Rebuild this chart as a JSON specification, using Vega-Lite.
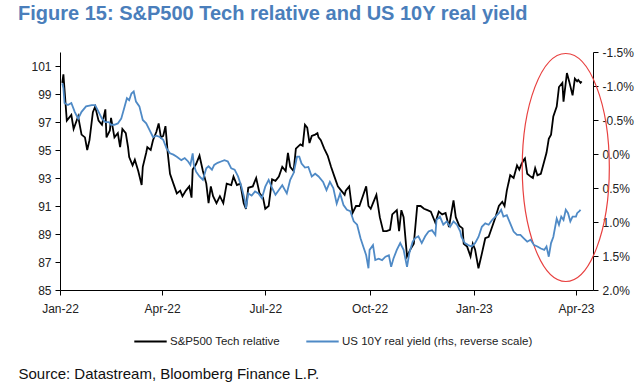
{
  "$schema": "https://vega.github.io/schema/vega-lite/v6.json",
  "autosize": {"type": "none"},
  "width": 533,
  "height": 238,
  "padding": {"left": 60, "top": 52, "right": 47, "bottom": 102},
  "background": "white",
  "title": {
    "text": "Figure 15: S&P500 Tech relative and US 10Y real yield",
    "anchor": "start",
    "frame": "group",
    "dx": -42,
    "offset": 22,
    "font": "Liberation Sans",
    "fontSize": 20,
    "fontWeight": "bold",
    "color": "#4a7ebb"
  },
  "datasets": {
    "tech": [
      {"d":"2022-01-03","v":99.8},{"d":"2022-01-04","v":100.4},{"d":"2022-01-07","v":97.1},{"d":"2022-01-11","v":97.5},{"d":"2022-01-13","v":96.5},{"d":"2022-01-17","v":97.4},{"d":"2022-01-20","v":96.1},{"d":"2022-01-23","v":95.9},{"d":"2022-01-25","v":95.0},{"d":"2022-01-27","v":95.7},{"d":"2022-01-30","v":97.7},{"d":"2022-02-01","v":98.1},{"d":"2022-02-04","v":97.1},{"d":"2022-02-07","v":96.8},{"d":"2022-02-10","v":97.9},{"d":"2022-02-11","v":95.9},{"d":"2022-02-14","v":96.4},{"d":"2022-02-15","v":97.3},{"d":"2022-02-18","v":95.9},{"d":"2022-02-21","v":96.2},{"d":"2022-02-23","v":95.2},{"d":"2022-02-25","v":96.5},{"d":"2022-02-28","v":96.2},{"d":"2022-03-02","v":95.2},{"d":"2022-03-03","v":94.5},{"d":"2022-03-06","v":93.9},{"d":"2022-03-08","v":94.3},{"d":"2022-03-11","v":93.5},{"d":"2022-03-14","v":92.5},{"d":"2022-03-15","v":93.8},{"d":"2022-03-18","v":94.8},{"d":"2022-03-19","v":95.2},{"d":"2022-03-22","v":95.0},{"d":"2022-03-24","v":95.7},{"d":"2022-03-27","v":96.3},{"d":"2022-03-29","v":96.9},{"d":"2022-03-31","v":95.9},{"d":"2022-04-02","v":96.0},{"d":"2022-04-04","v":96.7},{"d":"2022-04-06","v":94.8},{"d":"2022-04-08","v":93.3},{"d":"2022-04-11","v":92.6},{"d":"2022-04-14","v":91.9},{"d":"2022-04-17","v":92.1},{"d":"2022-04-19","v":91.7},{"d":"2022-04-22","v":92.1},{"d":"2022-04-25","v":92.4},{"d":"2022-04-27","v":91.6},{"d":"2022-04-28","v":93.6},{"d":"2022-05-01","v":94.0},{"d":"2022-05-04","v":94.6},{"d":"2022-05-07","v":93.5},{"d":"2022-05-10","v":92.6},{"d":"2022-05-12","v":91.2},{"d":"2022-05-14","v":92.4},{"d":"2022-05-16","v":91.7},{"d":"2022-05-19","v":91.2},{"d":"2022-05-22","v":91.7},{"d":"2022-05-25","v":91.2},{"d":"2022-05-28","v":92.6},{"d":"2022-06-01","v":92.5},{"d":"2022-06-03","v":93.1},{"d":"2022-06-06","v":92.5},{"d":"2022-06-09","v":92.6},{"d":"2022-06-12","v":91.2},{"d":"2022-06-14","v":90.8},{"d":"2022-06-16","v":92.3},{"d":"2022-06-20","v":92.4},{"d":"2022-06-23","v":93.0},{"d":"2022-06-26","v":91.9},{"d":"2022-06-29","v":91.6},{"d":"2022-07-01","v":90.8},{"d":"2022-07-04","v":91.0},{"d":"2022-07-07","v":92.9},{"d":"2022-07-10","v":92.8},{"d":"2022-07-13","v":93.1},{"d":"2022-07-16","v":93.8},{"d":"2022-07-19","v":93.5},{"d":"2022-07-21","v":94.8},{"d":"2022-07-23","v":93.8},{"d":"2022-07-26","v":93.5},{"d":"2022-07-28","v":95.1},{"d":"2022-08-01","v":95.4},{"d":"2022-08-03","v":95.3},{"d":"2022-08-05","v":96.8},{"d":"2022-08-07","v":96.6},{"d":"2022-08-09","v":95.5},{"d":"2022-08-11","v":96.0},{"d":"2022-08-14","v":96.1},{"d":"2022-08-16","v":96.2},{"d":"2022-08-17","v":95.9},{"d":"2022-08-19","v":95.7},{"d":"2022-08-22","v":95.1},{"d":"2022-08-25","v":94.6},{"d":"2022-08-28","v":93.8},{"d":"2022-08-31","v":93.1},{"d":"2022-09-03","v":92.4},{"d":"2022-09-06","v":92.1},{"d":"2022-09-09","v":91.8},{"d":"2022-09-10","v":92.1},{"d":"2022-09-13","v":92.4},{"d":"2022-09-16","v":90.5},{"d":"2022-09-19","v":91.0},{"d":"2022-09-22","v":91.0},{"d":"2022-09-25","v":91.7},{"d":"2022-09-28","v":92.4},{"d":"2022-09-30","v":91.0},{"d":"2022-10-02","v":90.8},{"d":"2022-10-04","v":91.2},{"d":"2022-10-07","v":91.8},{"d":"2022-10-10","v":90.2},{"d":"2022-10-13","v":89.2},{"d":"2022-10-16","v":89.2},{"d":"2022-10-19","v":89.3},{"d":"2022-10-21","v":90.4},{"d":"2022-10-25","v":90.7},{"d":"2022-10-27","v":89.2},{"d":"2022-10-29","v":90.7},{"d":"2022-10-31","v":90.2},{"d":"2022-11-03","v":87.4},{"d":"2022-11-06","v":87.9},{"d":"2022-11-09","v":88.3},{"d":"2022-11-12","v":91.0},{"d":"2022-11-15","v":91.0},{"d":"2022-11-18","v":90.8},{"d":"2022-11-21","v":90.7},{"d":"2022-11-24","v":90.6},{"d":"2022-11-27","v":90.0},{"d":"2022-11-28","v":89.8},{"d":"2022-12-01","v":90.6},{"d":"2022-12-04","v":90.4},{"d":"2022-12-07","v":90.5},{"d":"2022-12-10","v":89.5},{"d":"2022-12-14","v":91.4},{"d":"2022-12-16","v":90.2},{"d":"2022-12-19","v":89.6},{"d":"2022-12-22","v":89.4},{"d":"2022-12-23","v":88.3},{"d":"2022-12-26","v":88.1},{"d":"2022-12-29","v":87.4},{"d":"2022-12-31","v":88.3},{"d":"2023-01-02","v":87.9},{"d":"2023-01-05","v":86.55},{"d":"2023-01-08","v":87.6},{"d":"2023-01-11","v":88.7},{"d":"2023-01-14","v":88.8},{"d":"2023-01-17","v":89.5},{"d":"2023-01-20","v":90.2},{"d":"2023-01-23","v":91.0},{"d":"2023-01-26","v":91.3},{"d":"2023-01-28","v":91.0},{"d":"2023-01-30","v":92.1},{"d":"2023-02-02","v":93.2},{"d":"2023-02-05","v":93.0},{"d":"2023-02-08","v":93.9},{"d":"2023-02-10","v":93.6},{"d":"2023-02-12","v":94.0},{"d":"2023-02-14","v":94.3},{"d":"2023-02-15","v":94.4},{"d":"2023-02-17","v":93.3},{"d":"2023-02-20","v":93.1},{"d":"2023-02-22","v":93.0},{"d":"2023-02-24","v":93.7},{"d":"2023-02-26","v":93.2},{"d":"2023-03-01","v":93.3},{"d":"2023-03-04","v":94.2},{"d":"2023-03-06","v":94.8},{"d":"2023-03-08","v":95.8},{"d":"2023-03-10","v":96.1},{"d":"2023-03-12","v":97.4},{"d":"2023-03-15","v":98.1},{"d":"2023-03-17","v":99.5},{"d":"2023-03-20","v":99.8},{"d":"2023-03-21","v":98.45},{"d":"2023-03-24","v":100.5},{"d":"2023-03-26","v":99.9},{"d":"2023-03-29","v":98.9},{"d":"2023-03-31","v":100.1},{"d":"2023-04-02","v":99.9},{"d":"2023-04-03","v":100.0},{"d":"2023-04-05","v":99.8},{"d":"2023-04-06","v":99.9}
    ],
    "yld": [
      {"d":"2022-01-03","y":-1.04},{"d":"2022-01-04","y":-0.97},{"d":"2022-01-05","y":-0.75},{"d":"2022-01-08","y":-0.72},{"d":"2022-01-11","y":-0.75},{"d":"2022-01-14","y":-0.62},{"d":"2022-01-17","y":-0.52},{"d":"2022-01-20","y":-0.62},{"d":"2022-01-24","y":-0.70},{"d":"2022-01-29","y":-0.72},{"d":"2022-02-01","y":-0.72},{"d":"2022-02-04","y":-0.62},{"d":"2022-02-07","y":-0.52},{"d":"2022-02-10","y":-0.47},{"d":"2022-02-13","y":-0.47},{"d":"2022-02-15","y":-0.43},{"d":"2022-02-18","y":-0.43},{"d":"2022-02-21","y":-0.45},{"d":"2022-02-24","y":-0.52},{"d":"2022-02-27","y":-0.70},{"d":"2022-03-01","y":-0.82},{"d":"2022-03-03","y":-0.79},{"d":"2022-03-05","y":-0.89},{"d":"2022-03-07","y":-0.92},{"d":"2022-03-09","y":-0.77},{"d":"2022-03-12","y":-0.70},{"d":"2022-03-15","y":-0.50},{"d":"2022-03-18","y":-0.45},{"d":"2022-03-21","y":-0.35},{"d":"2022-03-24","y":-0.25},{"d":"2022-03-27","y":-0.27},{"d":"2022-03-30","y":-0.25},{"d":"2022-04-02","y":-0.21},{"d":"2022-04-05","y":-0.08},{"d":"2022-04-08","y":-0.01},{"d":"2022-04-11","y":0.01},{"d":"2022-04-14","y":0.04},{"d":"2022-04-18","y":0.09},{"d":"2022-04-21","y":0.06},{"d":"2022-04-24","y":0.11},{"d":"2022-04-26","y":0.16},{"d":"2022-04-28","y":-0.01},{"d":"2022-04-29","y":0.16},{"d":"2022-05-01","y":0.26},{"d":"2022-05-04","y":0.33},{"d":"2022-05-07","y":0.38},{"d":"2022-05-10","y":0.21},{"d":"2022-05-12","y":0.18},{"d":"2022-05-15","y":0.23},{"d":"2022-05-17","y":0.16},{"d":"2022-05-20","y":0.13},{"d":"2022-05-23","y":0.11},{"d":"2022-05-26","y":0.09},{"d":"2022-05-29","y":0.11},{"d":"2022-06-01","y":0.21},{"d":"2022-06-04","y":0.23},{"d":"2022-06-07","y":0.33},{"d":"2022-06-10","y":0.48},{"d":"2022-06-13","y":0.68},{"d":"2022-06-14","y":0.80},{"d":"2022-06-16","y":0.58},{"d":"2022-06-19","y":0.61},{"d":"2022-06-22","y":0.55},{"d":"2022-06-25","y":0.58},{"d":"2022-06-28","y":0.65},{"d":"2022-07-01","y":0.48},{"d":"2022-07-04","y":0.38},{"d":"2022-07-07","y":0.50},{"d":"2022-07-10","y":0.60},{"d":"2022-07-13","y":0.53},{"d":"2022-07-16","y":0.46},{"d":"2022-07-20","y":0.58},{"d":"2022-07-23","y":0.38},{"d":"2022-07-26","y":0.28},{"d":"2022-07-29","y":0.04},{"d":"2022-07-31","y":0.04},{"d":"2022-08-02","y":0.14},{"d":"2022-08-05","y":0.20},{"d":"2022-08-08","y":0.19},{"d":"2022-08-11","y":0.33},{"d":"2022-08-14","y":0.29},{"d":"2022-08-17","y":0.33},{"d":"2022-08-21","y":0.41},{"d":"2022-08-24","y":0.53},{"d":"2022-08-27","y":0.41},{"d":"2022-08-30","y":0.50},{"d":"2022-09-02","y":0.73},{"d":"2022-09-05","y":0.58},{"d":"2022-09-08","y":0.75},{"d":"2022-09-11","y":0.82},{"d":"2022-09-14","y":0.84},{"d":"2022-09-17","y":0.99},{"d":"2022-09-20","y":1.04},{"d":"2022-09-23","y":1.24},{"d":"2022-09-26","y":1.39},{"d":"2022-09-28","y":1.49},{"d":"2022-09-30","y":1.68},{"d":"2022-10-01","y":1.41},{"d":"2022-10-04","y":1.34},{"d":"2022-10-06","y":1.56},{"d":"2022-10-09","y":1.54},{"d":"2022-10-12","y":1.56},{"d":"2022-10-15","y":1.51},{"d":"2022-10-18","y":1.49},{"d":"2022-10-20","y":1.66},{"d":"2022-10-22","y":1.54},{"d":"2022-10-25","y":1.41},{"d":"2022-10-28","y":1.31},{"d":"2022-10-31","y":1.41},{"d":"2022-11-03","y":1.66},{"d":"2022-11-05","y":1.46},{"d":"2022-11-08","y":1.29},{"d":"2022-11-10","y":1.24},{"d":"2022-11-13","y":1.21},{"d":"2022-11-16","y":1.31},{"d":"2022-11-19","y":1.21},{"d":"2022-11-22","y":1.14},{"d":"2022-11-25","y":1.12},{"d":"2022-11-28","y":1.19},{"d":"2022-11-29","y":0.97},{"d":"2022-12-02","y":0.92},{"d":"2022-12-05","y":1.04},{"d":"2022-12-08","y":0.99},{"d":"2022-12-11","y":1.07},{"d":"2022-12-14","y":0.99},{"d":"2022-12-17","y":1.04},{"d":"2022-12-20","y":1.14},{"d":"2022-12-21","y":1.22},{"d":"2022-12-24","y":1.31},{"d":"2022-12-27","y":1.34},{"d":"2022-12-30","y":1.36},{"d":"2023-01-02","y":1.31},{"d":"2023-01-05","y":1.22},{"d":"2023-01-08","y":1.07},{"d":"2023-01-11","y":1.02},{"d":"2023-01-14","y":1.04},{"d":"2023-01-17","y":0.97},{"d":"2023-01-20","y":0.92},{"d":"2023-01-23","y":0.87},{"d":"2023-01-25","y":0.82},{"d":"2023-01-27","y":0.92},{"d":"2023-01-30","y":0.90},{"d":"2023-02-02","y":1.02},{"d":"2023-02-05","y":1.14},{"d":"2023-02-08","y":1.19},{"d":"2023-02-11","y":1.19},{"d":"2023-02-14","y":1.24},{"d":"2023-02-17","y":1.29},{"d":"2023-02-20","y":1.26},{"d":"2023-02-23","y":1.34},{"d":"2023-02-26","y":1.36},{"d":"2023-03-01","y":1.39},{"d":"2023-03-04","y":1.41},{"d":"2023-03-06","y":1.36},{"d":"2023-03-08","y":1.51},{"d":"2023-03-10","y":1.31},{"d":"2023-03-12","y":1.22},{"d":"2023-03-15","y":0.95},{"d":"2023-03-17","y":1.04},{"d":"2023-03-19","y":0.92},{"d":"2023-03-21","y":0.97},{"d":"2023-03-23","y":0.82},{"d":"2023-03-25","y":0.87},{"d":"2023-03-27","y":0.99},{"d":"2023-03-29","y":0.92},{"d":"2023-04-01","y":0.92},{"d":"2023-04-02","y":0.87},{"d":"2023-04-04","y":0.84},{"d":"2023-04-05","y":0.82}
    ],
    "mark": [{"d":"2023-03-23","v":93.75}]
  },
  "layer": [
    {
      "layer": [
        {
          "data": {"name": "tech"},
          "mark": {"type": "line", "strokeWidth": 1.8, "interpolate": "linear"},
          "encoding": {
            "x": {
              "field": "d",
              "type": "temporal",
              "scale": {"type": "utc", "domain": ["2022-01-01", "2023-04-16"]},
              "axis": {
                "values": ["2022-01-01", "2022-04-01", "2022-07-01", "2022-10-01", "2023-01-01", "2023-04-01"],
                "labelExpr": "utcFormat(datum.value, '%b-%y')",
                "title": "Source: Datastream, Bloomberg Finance L.P.",
                "titleX": -42,
                "titleY": 88,
                "titleAlign": "left",
                "titleAnchor": "start",
                "titleBaseline": "alphabetic",
                "titleFont": "Liberation Sans",
                "titleFontSize": 15,
                "titleFontWeight": "normal",
                "titleColor": "#111111",
                "labelPadding": 8,
                "labelFlush": false,
                "labelOverlap": false
              }
            },
            "y": {
              "field": "v",
              "type": "quantitative",
              "scale": {"domain": [85, 102], "nice": false, "zero": false},
              "axis": {"values": [85, 87, 89, 91, 93, 95, 97, 99, 101], "title": null, "orient": "left", "labelPadding": 4, "labelOverlap": false, "tickCount": 9}
            },
            "color": {"datum": "S&P500 Tech relative", "type": "nominal"}
          }
        },
        {
          "data": {"name": "mark"},
          "mark": {
            "type": "point",
            "shape": "M0,-1C0.211,-1,0.382,-0.552,0.382,0C0.382,0.552,0.211,1,0,1C-0.211,1,-0.382,0.552,-0.382,0C-0.382,-0.552,-0.211,-1,0,-1Z",
            "size": 51984,
            "filled": false,
            "stroke": "#e8403f",
            "strokeWidth": 1.2,
            "opacity": 1
          },
          "encoding": {
            "x": {"field": "d", "type": "temporal"},
            "y": {
              "field": "v",
              "type": "quantitative",
              "axis": {"values": [85, 87, 89, 91, 93, 95, 97, 99, 101], "title": null, "orient": "left", "labelPadding": 4, "labelOverlap": false, "tickCount": 9}
            }
          }
        }
      ]
    },
    {
      "data": {"name": "yld"},
      "mark": {"type": "line", "strokeWidth": 1.8, "interpolate": "linear"},
      "encoding": {
        "x": {"field": "d", "type": "temporal"},
        "y": {
          "field": "y",
          "type": "quantitative",
          "scale": {"domain": [-1.5, 2.0], "reverse": true, "nice": false, "zero": false},
          "axis": {
            "values": [-1.5, -1.0, -0.5, 0, 0.5, 1.0, 1.5, 2.0],
            "labelExpr": "replace(format(datum.value, '.1f'), '\u2212', '-') + '%'",
            "title": null,
            "orient": "right",
            "labelPadding": 4,
            "labelOverlap": false
          }
        },
        "color": {"datum": "US 10Y real yield (rhs, reverse scale)", "type": "nominal"}
      }
    }
  ],
  "resolve": {"scale": {"y": "independent"}},
  "config": {
    "view": {"stroke": null},
    "range": {"category": ["#000000", "#4f8ac6"]},
    "axis": {
      "grid": false,
      "domainColor": "#000000",
      "domainWidth": 1,
      "tickColor": "#000000",
      "tickSize": 5,
      "labelFont": "Liberation Sans",
      "labelFontSize": 12,
      "labelColor": "#222222",
      "labelOverlap": false
    },
    "legend": {
      "orient": "none",
      "legendX": 73,
      "legendY": 272,
      "direction": "horizontal",
      "title": null,
      "symbolType": "stroke",
      "symbolSize": 1050,
      "symbolStrokeWidth": 2,
      "labelFont": "Liberation Sans",
      "labelFontSize": 11.5,
      "labelColor": "#222222",
      "labelOffset": 2,
      "labelLimit": 0,
      "columnPadding": 22
    }
  }
}
